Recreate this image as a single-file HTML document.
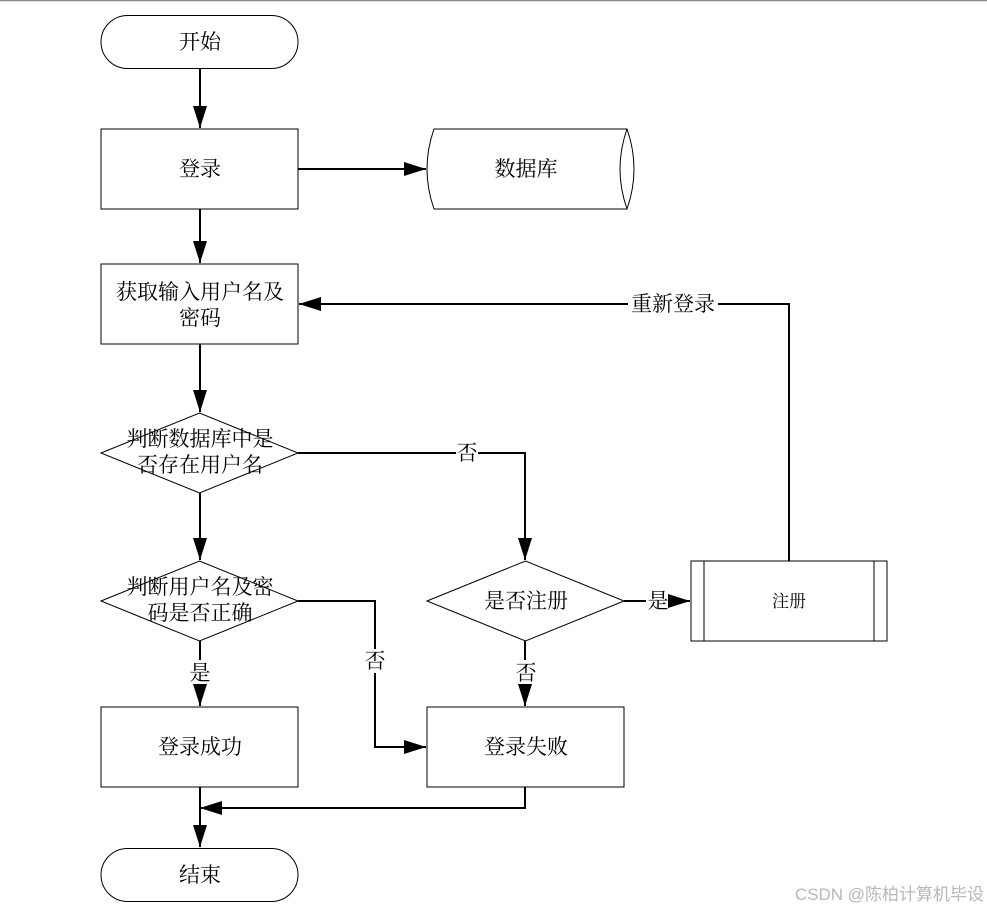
<!DOCTYPE html>
<html><head><meta charset="utf-8"><style>
html,body{margin:0;padding:0;background:#fff;}
svg{display:block;}
text{font-family:"Liberation Serif","Noto Serif CJK SC",serif;font-size:21px;fill:#000;}
</style></head><body>
<svg width="987" height="913" viewBox="0 0 987 913" xmlns="http://www.w3.org/2000/svg">
<defs>
<marker id="a" markerWidth="22" markerHeight="14" refX="22" refY="7" orient="auto" markerUnits="userSpaceOnUse">
<path d="M0,0 L22,7 L0,14 Z" fill="#000"/></marker>
</defs>
<line x1="0" y1="0.5" x2="987" y2="0.5" stroke="#888" stroke-width="1.5"/>
<g fill="#fff" stroke="#000" stroke-width="1">
<rect x="101" y="15.5" width="197" height="53" rx="26.5"/>
<rect x="101" y="129" width="197" height="80"/>
<path d="M434,129 L627,129 Q641,169 627,209 L434,209 Q420,169 434,129 Z"/>
<path d="M627,129 Q613,169 627,209"/>
<rect x="101" y="264" width="197" height="80"/>
<polygon points="101,453 199.5,413 298,453 199.5,493"/>
<polygon points="101,601 199.5,561 298,601 199.5,641"/>
<polygon points="427,601 525.5,561 624,601 525.5,641"/>
<rect x="691" y="561" width="196" height="80"/>
<line x1="704" y1="561" x2="704" y2="641"/>
<line x1="874" y1="561" x2="874" y2="641"/>
<rect x="101" y="707" width="197" height="80"/>
<rect x="427" y="707" width="197" height="80"/>
<rect x="101" y="848.5" width="197" height="53" rx="26.5"/>
</g>
<g fill="none" stroke="#000" stroke-width="2">
<line x1="200" y1="68" x2="200" y2="128" marker-end="url(#a)"/>
<line x1="298" y1="169" x2="426" y2="169" marker-end="url(#a)"/>
<line x1="200" y1="209" x2="200" y2="263" marker-end="url(#a)"/>
<line x1="200" y1="344" x2="200" y2="412" marker-end="url(#a)"/>
<line x1="200" y1="493" x2="200" y2="560" marker-end="url(#a)"/>
<polyline points="298,453 525,453 525,560" marker-end="url(#a)"/>
<line x1="624" y1="601" x2="690" y2="601" marker-end="url(#a)"/>
<polyline points="789,561 789,304 299,304" marker-end="url(#a)"/>
<line x1="200" y1="641" x2="200" y2="706" marker-end="url(#a)"/>
<polyline points="298,601 375,601 375,747 426,747" marker-end="url(#a)"/>
<line x1="525" y1="641" x2="525" y2="706" marker-end="url(#a)"/>
<line x1="200" y1="787" x2="200" y2="847" marker-end="url(#a)"/>
<polyline points="525,787 525,808 200,808" marker-end="url(#a)"/>
</g>
<g fill="#fff">
<rect x="628" y="292" width="90" height="24"/>
<rect x="456" y="441" width="22" height="24"/>
<rect x="646" y="589" width="22" height="24"/>
<rect x="363" y="649" width="24" height="24"/>
<rect x="514" y="660" width="24" height="24"/>
<rect x="188" y="660" width="24" height="24"/>
</g>
<g text-anchor="middle">
<text x="200" y="49">开始</text>
<text x="200" y="176">登录</text>
<text x="526" y="176">数据库</text>
<text x="200" y="299">获取输入用户名及</text>
<text x="200" y="325">密码</text>
<text x="200" y="446">判断数据库中是</text>
<text x="200" y="472">否存在用户名</text>
<text x="200" y="594">判断用户名及密</text>
<text x="200" y="620">码是否正确</text>
<text x="526" y="608">是否注册</text>
<text x="789" y="607" style="font-size:17px">注册</text>
<text x="200" y="754">登录成功</text>
<text x="526" y="754">登录失败</text>
<text x="200" y="882">结束</text>
<text x="673" y="311">重新登录</text>
<text x="467" y="460">否</text>
<text x="658" y="608">是</text>
<text x="375" y="668">否</text>
<text x="526" y="680">否</text>
<text x="200" y="680">是</text>
</g>
<text x="984" y="900" text-anchor="end" style="font-family:'Liberation Sans','Noto Sans CJK SC',sans-serif;font-size:17px;fill:#b8b8b8">CSDN @陈柏计算机毕设</text>
</svg>
</body></html>
